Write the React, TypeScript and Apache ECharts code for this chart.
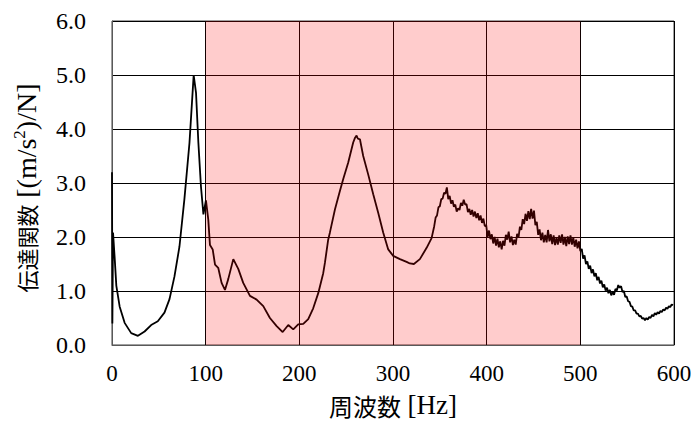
import React, { useEffect, useRef } from "react";
import * as echarts from "echarts";

// Smooth part of the transfer function: [frequency Hz, (m/s²)/N]
const lowBand: [number, number][] = [
  [0, 3.2], [0.4, 0.4], [1.1, 2.08], [2.9, 1.6], [4.6, 1.1], [8.2, 0.71],
  [13.5, 0.41], [20.5, 0.22], [27.7, 0.17], [34.8, 0.25], [41.8, 0.37],
  [48.9, 0.44], [56, 0.6], [61.4, 0.85], [66.7, 1.27], [72, 1.82],
  [77.3, 2.7], [82.7, 3.74], [86.2, 4.72], [87.2, 5.0], [89.7, 4.67],
  [92.2, 3.75], [95, 2.93], [97.6, 2.42], [100.3, 2.68], [102.8, 2.32],
  [104.6, 1.85], [107.5, 1.77], [110, 1.49], [113.4, 1.43], [117, 1.15],
  [120.6, 1.02], [124.1, 1.22], [129.5, 1.59], [134.8, 1.41], [140.1, 1.15],
  [147.3, 0.91], [154.4, 0.84], [161.5, 0.72], [168.6, 0.5], [175.8, 0.35],
  [182.2, 0.24], [188.2, 0.37], [193.5, 0.29], [198.8, 0.38], [204.2, 0.39],
  [209.5, 0.48], [214.8, 0.68], [220.2, 0.96], [225.5, 1.33], [227.3, 1.52],
  [230.8, 1.95], [232.6, 2.08], [238, 2.51], [243.3, 2.85], [246.8, 3.07],
  [252.2, 3.38], [257.5, 3.75], [259.5, 3.84], [261.1, 3.88], [262.5, 3.82],
  [264.7, 3.81], [268.2, 3.5], [273.5, 3.16], [278.9, 2.79], [284.2, 2.45],
  [289.6, 2.08], [294.9, 1.77], [300.2, 1.65], [307.4, 1.59], [314.5, 1.54],
  [318, 1.51], [322.3, 1.5], [328.7, 1.59], [335.9, 1.8], [341.2, 1.98],
];

// Noisy upper band, sampled every 1.5 Hz from 344 Hz
const noisyStartHz = 344;
const noisyStepHz = 1.5;
const noisyValues: number[] = [
  2.2, 2.36, 2.4, 2.55, 2.57, 2.7, 2.71, 2.82, 2.8, 2.92,
  2.7, 2.76, 2.62, 2.68, 2.56, 2.6, 2.47, 2.53, 2.5, 2.63,
  2.58, 2.69, 2.6, 2.61, 2.46, 2.52, 2.41, 2.5, 2.38, 2.47,
  2.35, 2.44, 2.31, 2.4, 2.26, 2.34, 2.2, 2.22, 2.0, 2.12,
  1.96, 2.05, 1.88, 2.0, 1.84, 1.97, 1.81, 1.92, 1.77, 1.93,
  1.84, 2.04, 1.95, 2.1, 1.9, 2.01, 1.85, 1.95, 1.86, 2.06,
  1.99, 2.19, 2.13, 2.33, 2.24, 2.43, 2.3, 2.48, 2.33, 2.52,
  2.34, 2.49, 2.22, 2.28, 2.04, 2.14, 1.94, 2.08, 1.9, 2.04,
  1.9, 2.13, 1.92, 2.05, 1.87, 2.03, 1.85, 1.99, 1.86, 2.03,
  1.89, 2.05, 1.86, 2.0, 1.83, 2.01, 1.87, 2.03, 1.86, 1.99,
  1.82, 1.95, 1.79, 1.92, 1.74, 1.78, 1.6, 1.66, 1.5, 1.55,
  1.41, 1.47, 1.33, 1.4, 1.27, 1.33, 1.2, 1.26, 1.14, 1.19,
  1.07, 1.12, 1.01, 1.06, 0.96, 1.02, 0.92, 0.98, 0.93, 1.04,
  1.01, 1.11, 1.06, 1.09, 0.98, 1.0, 0.89, 0.9, 0.81, 0.8,
  0.72, 0.71, 0.64, 0.64, 0.58, 0.58, 0.53, 0.54, 0.49, 0.5,
  0.46, 0.5, 0.47, 0.52, 0.5, 0.56, 0.53, 0.59, 0.56, 0.61,
  0.58, 0.63, 0.61, 0.66, 0.64, 0.69, 0.67, 0.72, 0.7, 0.75,
  0.74,
];

const xTicks = [0, 100, 200, 300, 400, 500, 600];
const yTicks = [0, 1, 2, 3, 4, 5, 6];
const highlightBand: [number, number] = [100, 500];

const serif = "Liberation Serif, Times New Roman, serif";
const cjk = "Noto Sans CJK JP, sans-serif";

export default function App() {
  const ref = useRef<HTMLDivElement>(null);

  useEffect(() => {
    if (!ref.current) return;
    document.body.style.margin = "0";
    const chart = echarts.init(ref.current, undefined, { renderer: "svg" });

    const series: [number, number][] = [
      ...lowBand,
      ...noisyValues.map((v, i) => [noisyStartHz + i * noisyStepHz, v] as [number, number]),
    ];

    chart.setOption({
      animation: false,
      backgroundColor: "#ffffff",
      grid: {
        left: 112,
        right: 22,
        top: 21,
        bottom: 78,
        show: true,
        borderColor: "#404040",
        borderWidth: 1,
        backgroundColor: "transparent",
      },
      xAxis: {
        type: "value",
        min: xTicks[0],
        max: xTicks[xTicks.length - 1],
        interval: 100,
        axisLine: { show: true, lineStyle: { color: "#595959", width: 1 } },
        axisTick: { show: false },
        splitLine: { show: true, lineStyle: { color: "#000000", width: 1 } },
        axisLabel: {
          margin: 17,
          color: "#000000",
          fontFamily: serif,
          fontSize: 23,
        },
      },
      yAxis: {
        type: "value",
        min: yTicks[0],
        max: yTicks[yTicks.length - 1],
        interval: 1,
        axisLine: { show: true, lineStyle: { color: "#595959", width: 1 } },
        axisTick: { show: false },
        splitLine: { show: true, lineStyle: { color: "#000000", width: 1 } },
        axisLabel: {
          margin: 26,
          color: "#000000",
          fontFamily: serif,
          fontSize: 24,
          formatter: (v: number) => v.toFixed(1),
        },
      },
      graphic: [
        {
          type: "text",
          x: 26,
          y: 188,
          rotation: Math.PI / 2,
          style: {
            text: "{c|伝達関数} {a|[(m/s}{s|2}{a|)/N]}",
            align: "center",
            verticalAlign: "middle",
            fill: "#000000",
            fontFamily: serif,
            fontSize: 27,
            rich: {
              c: { fontFamily: cjk, fontSize: 22, lineHeight: 30, fill: "#000000" },
              a: { fontFamily: serif, fontSize: 28, lineHeight: 30, fill: "#000000" },
              s: { fontFamily: serif, fontSize: 17, lineHeight: 30, verticalAlign: "top", fill: "#000000" },
            },
          },
        },
        {
          type: "text",
          x: 393,
          y: 405,
          style: {
            text: "{c|周波数} {a|[Hz]}",
            align: "center",
            verticalAlign: "middle",
            fill: "#000000",
            fontFamily: serif,
            fontSize: 26,
            rich: {
              c: { fontFamily: cjk, fontSize: 24, lineHeight: 30, fill: "#000000" },
              a: { fontFamily: serif, fontSize: 27, lineHeight: 30, fill: "#000000" },
            },
          },
        },
      ],
      series: [
        {
          type: "line",
          data: series,
          showSymbol: false,
          symbol: "none",
          z: 2,
          lineStyle: { color: "#000000", width: 1.8 },
          markArea: {
            silent: true,
            z: 10,
            itemStyle: { color: "rgba(255, 0, 0, 0.2)" },
            data: [[{ xAxis: highlightBand[0] }, { xAxis: highlightBand[1] }]],
          },
        },
      ],
    });

    return () => chart.dispose();
  }, []);

  return <div ref={ref} style={{ width: 696, height: 423 }} />;
}
